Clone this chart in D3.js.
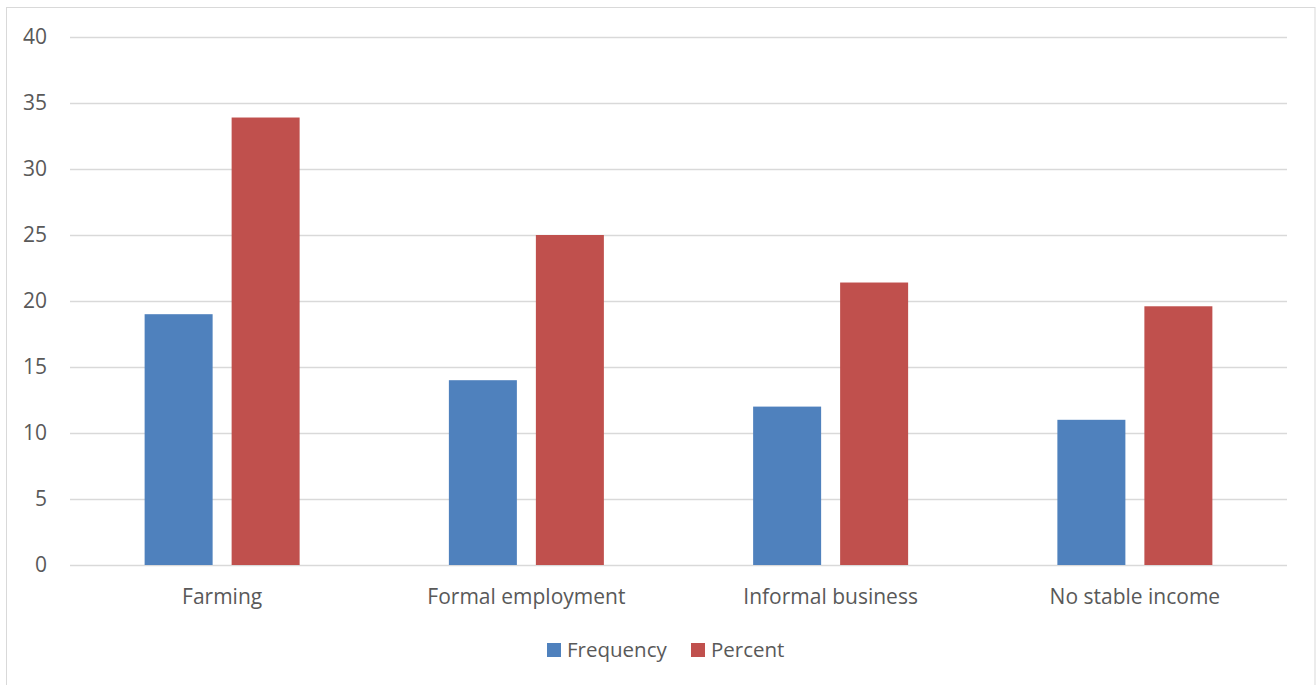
<!DOCTYPE html>
<html>
<head>
<meta charset="utf-8">
<script src="https://cdn.jsdelivr.net/npm/d3@7"></script>
<style>
  html, body { margin: 0; padding: 0; background: #fff; }
  svg { display: block; }
  text { font-family: "Open Sans", "Noto Sans", sans-serif; fill: #595959; }
</style>
</head>
<body>
<svg id="chart" width="1316" height="685"></svg>
<script>
// Income source of respondents
const categories = ["Farming", "Formal employment", "Informal business", "No stable income"];
const frequency = [19, 14, 12, 11];
const percent = [33.9, 25.0, 21.4, 19.6];
const seriesNames = ["Frequency", "Percent"];
const seriesColors = ["#4f81bd", "#c0504d"];
const yTicks = [0, 5, 10, 15, 20, 25, 30, 35, 40];

const svg = d3.select("#chart");
const W = 1316, H = 685;
const plot = { left: 70, right: 1287, top: 37, bottom: 565 };

// chart area frame
svg.append("rect")
  .attr("x", 6.5).attr("y", 7.5)
  .attr("width", W - 7.5).attr("height", H)
  .attr("fill", "#fff").attr("stroke", "#d9d9d9").attr("stroke-width", 1);

const y = d3.scaleLinear().domain([0, 40]).range([plot.bottom, plot.top]);
const x = d3.scaleBand().domain(categories).range([plot.left, plot.right]).paddingInner(0).paddingOuter(0);
const groupW = 155;
const x1 = d3.scaleBand().domain(seriesNames)
  .range([0, groupW]).paddingInner(19 / 87).paddingOuter(0);

// gridlines
svg.append("g").selectAll("line").data(yTicks).join("line")
  .attr("x1", plot.left).attr("x2", plot.right)
  .attr("y1", d => Math.round(y(d)) + 0.5).attr("y2", d => Math.round(y(d)) + 0.5)
  .attr("stroke", "#d9d9d9").attr("stroke-width", 1.5);

// y axis labels
const yAxis = d3.axisLeft(y).tickValues(yTicks).tickSize(0).tickPadding(0);
const gy = svg.append("g").attr("transform", "translate(47,0)").call(yAxis);
gy.select(".domain").remove();
gy.attr("font-size", null).attr("font-family", null);
gy.selectAll("text").style("font-size", "21px").attr("fill", "#595959")
  .style("font-family", '"Open Sans", sans-serif');

// bars
const rows = categories.map((c, i) => ({ cat: c, vals: [frequency[i], percent[i]] }));
const groups = svg.append("g").selectAll("g").data(rows).join("g")
  .attr("transform", d => `translate(${x(d.cat) + (x.bandwidth() - groupW) / 2},0)`);
groups.selectAll("rect").data(d => d.vals.map((v, j) => ({ name: seriesNames[j], v, j })))
  .join("rect")
  .attr("x", d => x1(d.name))
  .attr("width", x1.bandwidth())
  .attr("y", d => y(d.v))
  .attr("height", d => y(0) - y(d.v))
  .attr("fill", d => seriesColors[d.j]);

// x axis labels
const xAxis = d3.axisBottom(x).tickSize(0).tickPadding(0);
const gx = svg.append("g").attr("transform", "translate(0,597)").call(xAxis);
gx.select(".domain").remove();
gx.attr("font-size", null).attr("font-family", null);
gx.selectAll("text").style("font-size", "21px").attr("fill", "#595959").attr("dy", "0.35em")
  .style("font-family", '"Open Sans", sans-serif');

// legend
const legend = svg.append("g");
const legendItems = [{ name: seriesNames[0], x: 547 }, { name: seriesNames[1], x: 691 }];
legendItems.forEach((it, i) => {
  legend.append("rect").attr("x", it.x).attr("y", 643).attr("width", 14).attr("height", 14)
    .attr("fill", seriesColors[i]);
  legend.append("text").attr("x", it.x + 20).attr("y", 650).attr("dy", "0.35em")
    .style("font-size", "20.5px").text(it.name);
});
</script>
</body>
</html>
